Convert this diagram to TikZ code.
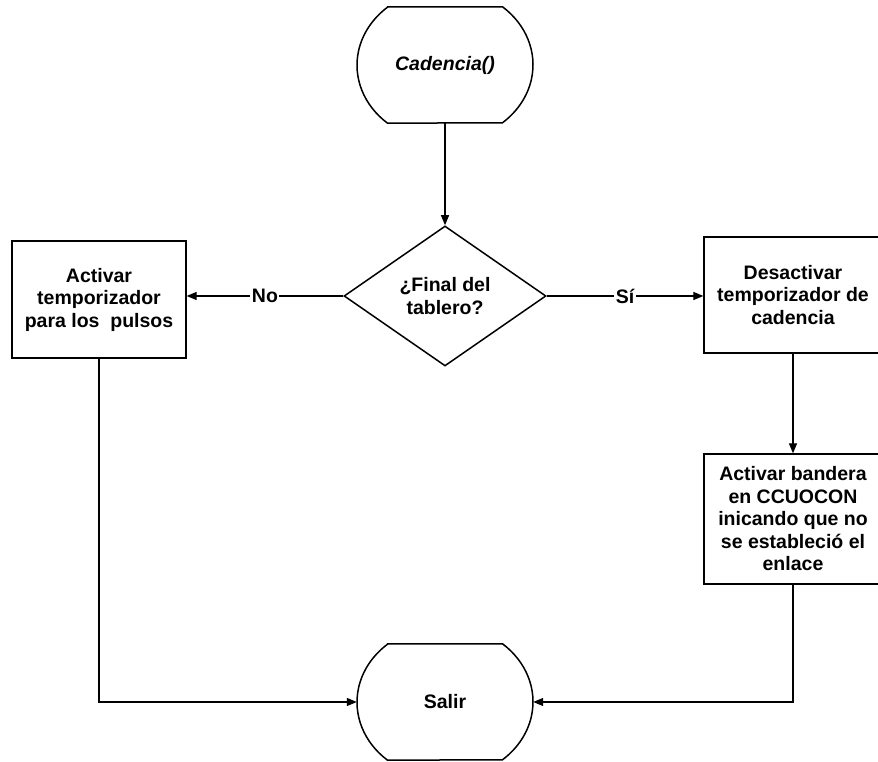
\documentclass[tikz,border=0pt]{standalone}
\usepackage{fontspec}
\setmainfont{Liberation Sans}
\usetikzlibrary{arrows.meta,shapes.geometric}
\newcommand\termshape[1]{%
  \draw[termline] ([xshift=-57.5pt]#1.north) -- ([xshift=57.5pt]#1.north)
    arc[start angle=49.2,end angle=-49.2,x radius=88pt,y radius=76.6pt]
    -- ([xshift=-57.5pt]#1.south)
    arc[start angle=229.2,end angle=130.8,x radius=88pt,y radius=76.6pt] -- cycle;}
\begin{document}
\begin{tikzpicture}[x=1pt,y=1pt,
  every node/.style={font=\bfseries\fontsize{19.5}{22.5}\selectfont, align=center},
  termnode/.style={minimum width=176pt, minimum height=116pt, inner sep=0pt},
  procbox/.style={draw, line width=1.3pt, inner sep=0pt},
  decision/.style={diamond, draw, line width=1.5pt, minimum width=202pt, minimum height=140pt, inner sep=0pt},
  conn/.style={line width=1.2pt, -{Triangle[length=10pt,width=8pt]}},
  lbl/.style={fill=white, inner sep=1.5pt},
  termline/.style={line width=1.5pt}]
\useasboundingbox (0,0) rectangle (878,762);
\node[termnode] (start) at (445,697) {\itshape Cadencia()};
\termshape{start}
\node[decision] (dec) at (445,466) {¿Final del\\tablero?};
\node[procbox, minimum width=174pt, minimum height=117pt] (left) at (99,462.5)
  {Activar\\temporizador\\para los\ \ pulsos};
\node[procbox, minimum width=178pt, minimum height=116pt] (right) at (793,467)
  {Desactivar\\temporizador de\\cadencia};
\node[procbox, minimum width=178pt, minimum height=130pt] (flag) at (793,243)
  {Activar bandera\\en CCUOCON\\inicando que no\\se estableció el\\enlace};
\node[termnode] (salir) at (445,60) {Salir};
\termshape{salir}
\draw[conn] (start.south) -- (dec.north);
\draw[conn] (dec.west) -- node[lbl] {No} (dec.west -| left.east);
\draw[conn] (dec.east) -- node[lbl] {Sí} (dec.east -| right.west);
\draw[conn] (right.south) -- (flag.north);
\draw[conn] (left.south) |- (salir.west);
\draw[conn] (flag.south) |- (salir.east);
\end{tikzpicture}
\end{document}
